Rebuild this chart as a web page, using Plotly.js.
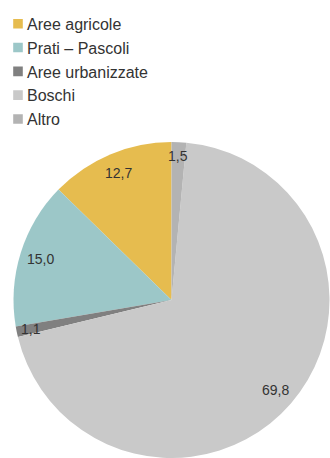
<!DOCTYPE html>
<html>
<head>
<meta charset="utf-8">
<script src="https://cdn.plot.ly/plotly-3.0.1.min.js"></script>
<style>html,body{margin:0;padding:0;background:#fff;}#chart{width:330px;height:458px;}</style>
</head>
<body>
<div id="chart"></div>
<script>
const categories = ["Aree agricole", "Prati – Pascoli", "Aree urbanizzate", "Boschi", "Altro"];
const values = [12.7, 15.0, 1.1, 69.8, 1.5];
const colors = ["#E6BC4F", "#9CC7C8", "#808080", "#C9C9C9", "#B3B3B3"];
const labelRadius = [0.87, 0.87, 0.91, 0.87, 0.91];

const W = 330, H = 458;
const domX = [13 / W, 330 / W];
const domY = [0, 316 / H];
const cx = (domX[0] + domX[1]) / 2 * W;
const cy = H - (domY[0] + domY[1]) / 2 * H;
const R = Math.min((domX[1] - domX[0]) * W, (domY[1] - domY[0]) * H) / 2;

const total = values.reduce((a, b) => a + b, 0);
let cum = 0;
const annotations = values.map((v, i) => {
  const mid = (cum + v / 2) / total * 2 * Math.PI;
  cum += v;
  const px = cx - Math.sin(mid) * R * labelRadius[i];
  const py = cy - Math.cos(mid) * R * labelRadius[i];
  return {
    x: px / W, y: 1 - py / H, xref: "paper", yref: "paper",
    text: v.toFixed(1).replace(".", ","), showarrow: false,
    xanchor: "center", yanchor: "middle",
    font: {family: "Liberation Sans, Arial, sans-serif", size: 14, color: "#333333"}
  };
});

const data = [{
  type: "pie",
  labels: categories,
  values: values,
  marker: {colors: colors, line: {width: 0}},
  sort: false,
  direction: "counterclockwise",
  rotation: -values[0] / total * 360,
  textinfo: "none",
  hoverinfo: "none",
  domain: {x: domX, y: domY}
}];

const layout = {
  width: W, height: H,
  margin: {l: 0, r: 0, t: 0, b: 0},
  paper_bgcolor: "#ffffff",
  showlegend: true,
  legend: {
    x: 0, xanchor: "left", y: 0.985, yanchor: "top",
    font: {family: "Liberation Sans, Arial, sans-serif", size: 16, color: "#333333"},
    itemwidth: 30, tracegroupgap: 0
  },
  annotations: annotations
};

Plotly.newPlot("chart", data, layout, {staticPlot: true, displayModeBar: false}).then(function (gd) {
  gd.querySelectorAll(".legend .legendtext").forEach(function (t) {
    const x = parseFloat(t.getAttribute("x")) || 40;
    t.setAttribute("x", x - 13);
  });
  gd.querySelectorAll(".legend .legendpie").forEach(function (p) {
    p.setAttribute("transform", "translate(18,0) scale(0.8)");
  });
});
</script>
</body>
</html>
